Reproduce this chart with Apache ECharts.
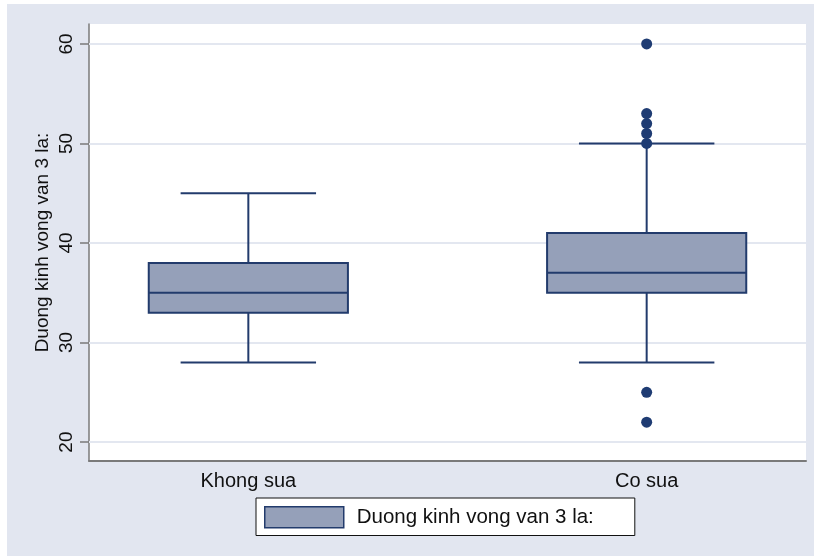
<!DOCTYPE html>
<html>
<head>
<meta charset="utf-8">
<script src="https://cdn.jsdelivr.net/npm/echarts@6/dist/echarts.min.js"></script>
<style>
html,body{margin:0;padding:0;background:#ffffff;}
#chart{width:814px;height:557px;}
</style>
</head>
<body>
<div id="chart"></div>
<script>
// ---- data ----
const categories = ['Khong sua', 'Co sua'];
const categoryPos = [1, 2];
const minVals = [28, 28];
const q1Vals = [33, 35];
const medianVals = [35, 37];
const q3Vals = [38, 41];
const maxVals = [45, 50];
const outlierCategoryIdx = [1, 1, 1, 1, 1, 1, 1];
const outlierValues = [60, 53, 52, 51, 50, 25, 22];
const yTicks = [20, 30, 40, 50, 60];
const seriesName = 'Duong kinh vong van 3 la:';
const yTitle = 'Duong kinh vong van 3 la:';

const FONT = '"Liberation Sans", Arial, Helvetica, sans-serif';
const NAVY = '#223B6C';
const FILL = '#95A0B9';
const GRID = '#E3E7F0';

const boxData = categories.map((c, i) => [categoryPos[i], minVals[i], q1Vals[i], medianVals[i], q3Vals[i], maxVals[i]]);
const outlierData = outlierValues.map((v, i) => [categoryPos[outlierCategoryIdx[i]], v]);

const chart = echarts.init(document.getElementById('chart'), null, {renderer: 'canvas'});

function renderBox(params, api) {
  const x = api.value(0);
  const pMin = api.coord([x, api.value(1)]);
  const pQ1 = api.coord([x, api.value(2)]);
  const pMed = api.coord([x, api.value(3)]);
  const pQ3 = api.coord([x, api.value(4)]);
  const pMax = api.coord([x, api.value(5)]);
  const halfBox = api.size([0.5, 0])[0] / 2;
  const halfCap = api.size([0.34, 0])[0] / 2;
  const ls = {stroke: NAVY, lineWidth: 2};
  return {
    type: 'group',
    children: [
      {type: 'line', shape: {x1: pMax[0], y1: pMax[1], x2: pQ3[0], y2: pQ3[1]}, style: ls},
      {type: 'line', shape: {x1: pQ1[0], y1: pQ1[1], x2: pMin[0], y2: pMin[1]}, style: ls},
      {type: 'line', shape: {x1: pMax[0] - halfCap, y1: pMax[1], x2: pMax[0] + halfCap, y2: pMax[1]}, style: ls},
      {type: 'line', shape: {x1: pMin[0] - halfCap, y1: pMin[1], x2: pMin[0] + halfCap, y2: pMin[1]}, style: ls},
      {type: 'rect', shape: {x: pQ3[0] - halfBox, y: pQ3[1], width: halfBox * 2, height: pQ1[1] - pQ3[1]},
        style: {fill: FILL, stroke: NAVY, lineWidth: 2}},
      {type: 'line', shape: {x1: pMed[0] - halfBox, y1: pMed[1], x2: pMed[0] + halfBox, y2: pMed[1]}, style: ls}
    ]
  };
}

const option = {
  animation: false,
  backgroundColor: '#ffffff',
  textStyle: {fontFamily: FONT},
  graphic: [{
    type: 'rect', left: 7, top: 4, z: -10, silent: true,
    shape: {width: 807, height: 552},
    style: {fill: '#E2E6F0'}
  }],
  grid: {
    left: 89, right: 8, top: 24, bottom: 96,
    show: true, backgroundColor: '#ffffff', borderWidth: 0, z: 0
  },
  legend: {
    left: 256, top: 498,
    padding: [8, 41, 7, 8],
    backgroundColor: '#ffffff',
    borderColor: '#111111', borderWidth: 1, borderRadius: 0,
    itemWidth: 79, itemHeight: 21,
    textStyle: {fontFamily: FONT, fontSize: 20.5, color: '#111111', padding: [0, 0, 0, 8]},
    data: [{name: seriesName, icon: 'rect', itemStyle: {color: FILL, borderColor: NAVY, borderWidth: 1.5}}]
  },
  xAxis: {
    type: 'value', min: 0.6, max: 2.4,
    axisLine: {show: true, onZero: false, lineStyle: {color: '#7A7A7A', width: 2}},
    axisTick: {show: false},
    splitLine: {show: false},
    axisLabel: {
      customValues: categoryPos,
      formatter: v => categories[categoryPos.indexOf(v)] || '',
      fontFamily: FONT, fontSize: 20, color: '#111111', margin: 10
    }
  },
  yAxis: {
    type: 'value', min: 18.1, max: 62,
    name: yTitle, nameLocation: 'middle', nameGap: 37, nameRotate: 90,
    nameMoveOverlap: false,
    nameTextStyle: {fontFamily: FONT, fontSize: 19, color: '#111111'},
    axisLine: {show: true, onZero: false, lineStyle: {color: '#7A7A7A', width: 1.5}},
    axisTick: {show: true, customValues: yTicks, length: 9, lineStyle: {color: '#7A7A7A', width: 1.5}},
    splitLine: {show: false},
    axisLabel: {customValues: yTicks, rotate: 90, fontFamily: FONT, fontSize: 19, color: '#111111', margin: 13}
  },
  series: [
    {
      name: seriesName,
      type: 'custom',
      z: 3,
      renderItem: renderBox,
      encode: {x: 0, y: [1, 2, 3, 4, 5]},
      itemStyle: {color: FILL, borderColor: NAVY},
      data: boxData,
      markLine: {
        silent: true, z: 1, symbol: 'none',
        label: {show: false},
        lineStyle: {color: GRID, width: 2, type: 'solid'},
        data: yTicks.map(t => ({yAxis: t}))
      }
    },
    {
      name: 'outliers',
      type: 'scatter',
      z: 4,
      symbol: 'circle', symbolSize: 11,
      itemStyle: {color: '#1F3C73', opacity: 1},
      data: outlierData
    }
  ]
};
chart.setOption(option);
</script>
</body>
</html>
